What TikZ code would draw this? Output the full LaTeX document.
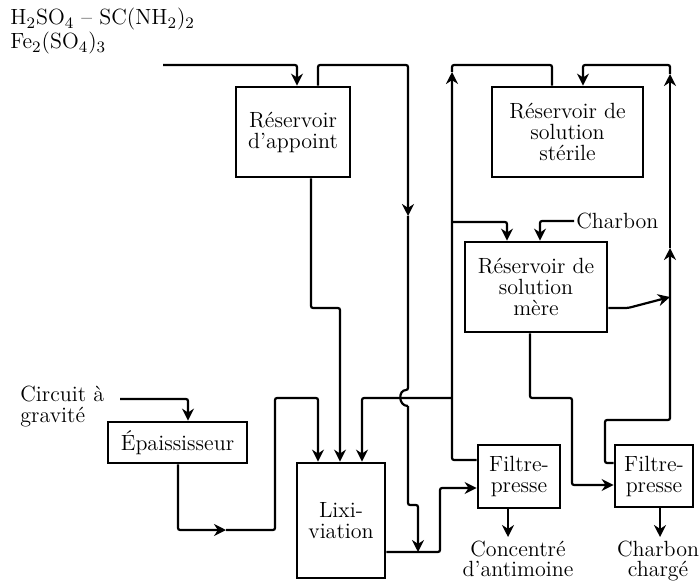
\documentclass[tikz,border=0pt]{standalone}
\usepackage{tikz}
\usetikzlibrary{arrows.meta, calc}
\tikzset{
  box/.style={draw, line width=1.4pt, inner sep=0pt, align=center, font=\fontsize{11}{10.5}\selectfont},
  pipe/.style={line width=1.1pt, rounded corners=1pt},
  flow/.style={pipe, -{Stealth[length=6pt,width=6pt]}},
  lbl/.style={inner sep=1pt, font=\fontsize{11}{10.5}\selectfont},
}
\begin{document}
\begin{tikzpicture}[x=0.5pt,y=-0.5pt]
\useasboundingbox (0,0) rectangle (699,587);
\node[box, minimum width=57pt, minimum height=45pt]   (appoint) at (293,132)   {Réservoir\\d'appoint};
\node[box, minimum width=75.5pt, minimum height=45pt] (sterile) at (567.5,132) {Réservoir de\\solution\\stérile};
\node[box, minimum width=71pt, minimum height=45pt]   (mere)    at (536,287)   {Réservoir de\\solution\\mère};
\node[box, minimum width=69.5pt, minimum height=20.5pt] (epais) at (177.5,442.5) {Épaississeur};
\node[box, minimum width=44pt, minimum height=57.5pt] (lixi)    at (341,520.5) {Lixi-\\viation};
\node[box, minimum width=41pt, minimum height=31.5pt] (fp1)     at (519,476.5) {Filtre-\\presse};
\node[box, minimum width=39pt, minimum height=31pt]   (fp2)     at (654,476)   {Filtre-\\presse};
\node[lbl, anchor=north west, align=left] (reactifs) at (8,6) {H$_2$SO$_4$ -- SC(NH$_2$)$_2$\\Fe$_2$(SO$_4$)$_3$};
\node[lbl, anchor=north west, align=left] (circuit) at (18,384) {Circuit à\\gravité};
\node[lbl, anchor=west] (charbon) at (574,221) {Charbon};
\node[lbl, anchor=north, align=center, font=\fontsize{11}{10}\selectfont] (concentre) at (518,539) {Concentré\\d'antimoine};
\node[lbl, anchor=north, align=center, font=\fontsize{11}{10}\selectfont] (charge) at (658,539) {Charbon\\chargé};
\coordinate (feedin) at (163,65);
\coordinate (gin) at (120,399);
% alimentation et appoint
\draw[flow] (feedin) -| ([xshift=2pt]appoint.north);
\draw[flow] (appoint.north -| 318,0) |- (408,65) -- (408,216);
\draw[pipe] (408,216) -- (408,390) .. controls (398,390) and (398,406) .. (408,406);
\draw[flow] (408,406) -- (408,505) -| (418,552);
\draw[flow] (appoint.south -| 311,0) |- (340,308) -- (lixi.north -| 340,0);
% epaississeur
\draw[flow] (gin) -| (epais.north -| 188,0);
\draw[flow] (epais.south -| 178,0) |- (226,530);
\draw[flow] (226,530) -| (275,398) -| (lixi.north -| 318,0);
% lixiviation et filtre-presse
\draw[flow] (lixi.east |- 0,552) -| (440,488) -- (fp1.west |- 0,488);
\draw[flow] (fp1.west |- 0,460) -| (452,72);
\draw[pipe] (452,72) |- (552,65) -- (sterile.north -| 552,0);
\draw[flow] (452,398) -| (lixi.north -| 362,0);
\draw[flow] (452,222) -| (mere.north -| 507,0);
\draw[flow] (charbon.west) -| (mere.north -| 540,0);
% solution mere
\draw[flow] (mere.east |- 0,308) -- (628,308) -- (670,297);
\draw[flow] (mere.south -| 530,0) |- (572,398) |- (fp2.west |- 0,485);
\draw[flow] (fp2.west |- 0,463) -| (605,420) -| (670,248);
\draw[flow] (670,248) -- (670,74);
\draw[flow] (670,74) |- (583,65) -- (sterile.north -| 583,0);
% sorties
\draw[flow, shorten >=1pt] (fp1.south -| 508,0) -- (concentre.north -| 508,0);
\draw[flow, shorten >=1pt] (fp2.south -| 660,0) -- (charge.north -| 660,0);
\end{tikzpicture}
\end{document}
